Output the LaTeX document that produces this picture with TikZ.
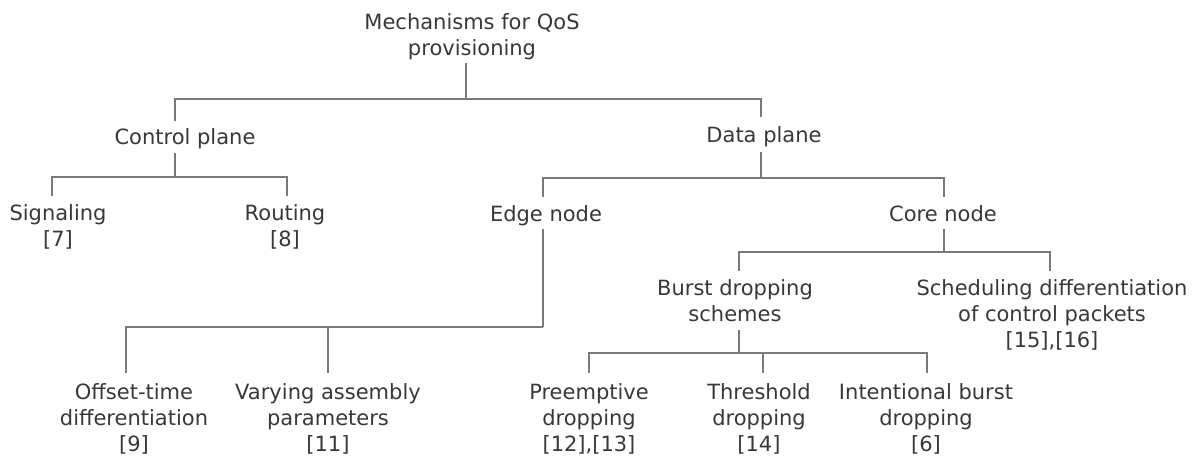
\documentclass[tikz,border=0pt]{standalone}
\usepackage{fontspec}
\setmainfont{DejaVu Sans}
\begin{document}
\begin{tikzpicture}[x=1pt,y=-1pt,
  label/.style={anchor=base,align=center,inner sep=0pt,outer sep=0pt,
    text=black!78,font=\fontsize{21}{26}\selectfont},
  link/.style={draw=black!52,line width=1.1pt}]
\useasboundingbox (0,0) rectangle (1200,457);

% labels (each placed by the baseline of its last line)
\node[label] (root)  at (472,56)  {Mechanisms for QoS\\provisioning};
\node[label] (cp)    at (185,145) {Control plane};
\node[label] (dp)    at (764,143) {Data plane};
\node[label] (sig)   at (58,247)  {Signaling\\{[7]}};
\node[label] (rout)  at (285,247) {Routing\\{[8]}};
\node[label] (edge)  at (546,222) {Edge node};
\node[label] (core)  at (943,222) {Core node};
\node[label] (burst) at (735,321) {Burst dropping\\schemes};
\node[label] (sched) at (1052,347) {Scheduling differentiation\\of control packets\\{[15],[16]}};
\node[label] (off)   at (134,451) {Offset-time\\differentiation\\{[9]}};
\node[label] (vary)  at (328,451) {Varying assembly\\parameters\\{[11]}};
\node[label] (pre)   at (589,451) {Preemptive\\dropping\\{[12],[13]}};
\node[label] (thr)   at (759,451) {Threshold\\dropping\\{[14]}};
\node[label] (intb)  at (926,451) {Intentional burst\\dropping\\{[6]}};

% branch points of the tree
\coordinate (j-root)  at (466,99);
\coordinate (j-cp)    at (175,177);
\coordinate (j-dp)    at (761,178);
\coordinate (j-edge)  at (543,327);
\coordinate (j-core)  at (944,252);
\coordinate (j-burst) at (739,353);

% root -> control plane / data plane
\draw[link] ([yshift=-3pt]root.south -| j-root) -- (j-root);
\draw[link] ([yshift=8pt]cp.north -| j-cp) |- (j-root) -| ([yshift=10pt]dp.north -| j-dp);
% control plane -> signaling / routing
\draw[link] ([yshift=-4pt]cp.south -| j-cp) -- (j-cp);
\draw[link] ([yshift=9pt]sig.north -| 52,0) |- (j-cp) -| ([yshift=9pt]rout.north -| 287,0);
% data plane -> edge / core
\draw[link] ([yshift=-5pt]dp.south -| j-dp) -- (j-dp);
\draw[link] ([yshift=9pt]edge.north -| j-edge) |- (j-dp) -| ([yshift=9pt]core.north -| j-core);
% edge node -> offset-time / assembly
\draw[link] ([yshift=-3pt]edge.south -| j-edge) -- (j-edge);
\draw[link] ([yshift=10pt]off.north -| 126,0) |- (j-edge) -| ([yshift=10pt]vary.north -| 328,0);
% core node -> burst dropping / scheduling
\draw[link] ([yshift=-7pt]core.south -| j-core) -- (j-core);
\draw[link] ([yshift=8pt]burst.north -| j-burst) |- (j-core) -| ([yshift=8pt]sched.north -| 1050,0);
% burst dropping -> three schemes
\draw[link] ([yshift=-9pt]burst.south -| j-burst) -- (j-burst);
\draw[link] ([yshift=10pt]pre.north) |- (j-burst) -| ([yshift=10pt]intb.north -| 927,0);
\draw[link] ([yshift=10pt]thr.north -| 763,0) -- (j-burst -| 763,0);
\end{tikzpicture}
\end{document}
